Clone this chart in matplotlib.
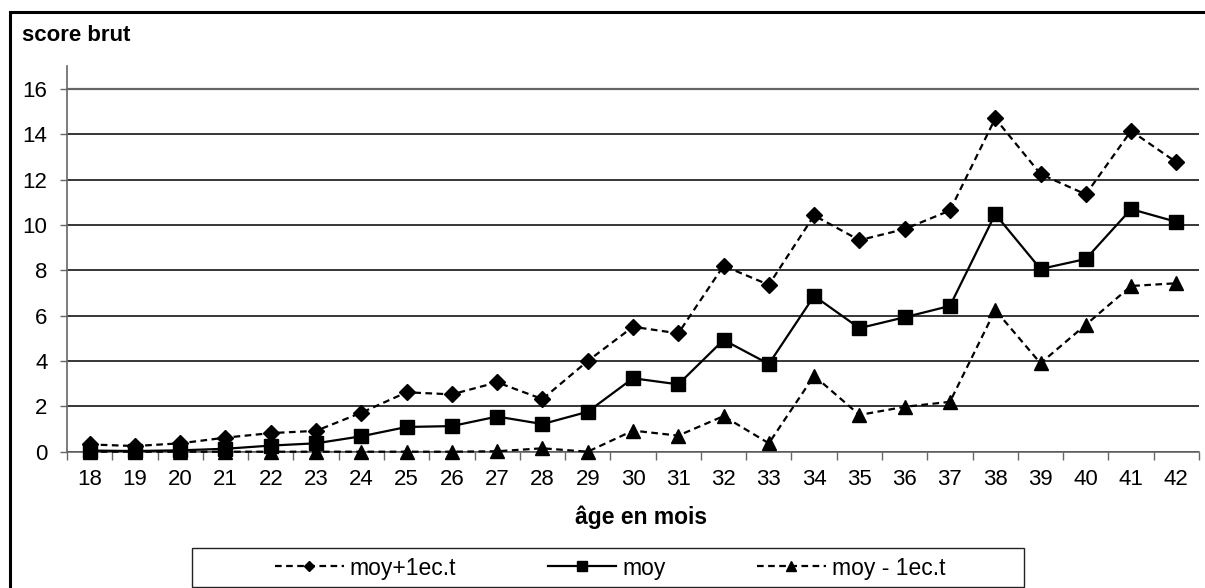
import matplotlib
matplotlib.use('Agg')
import matplotlib.pyplot as plt
from matplotlib.patches import Rectangle
from matplotlib.ticker import FixedLocator, NullFormatter

plt.rcParams['font.family'] = ['Liberation Sans', 'DejaVu Sans']

# ── Data ───────────────────────────────────────────────────────────────────
ages = list(range(18, 43))
moy_plus = [0.32, 0.25, 0.37, 0.62, 0.82, 0.92, 1.72, 2.62, 2.53, 3.06, 2.32, 4.0,
            5.51, 5.22, 8.2, 7.36, 10.42, 9.33, 9.82, 10.64, 14.7, 12.25, 11.35, 14.15, 12.77]
moy = [0.05, 0.03, 0.06, 0.13, 0.27, 0.37, 0.68, 1.09, 1.13, 1.55, 1.22, 1.76,
       3.24, 2.97, 4.93, 3.87, 6.87, 5.45, 5.93, 6.43, 10.48, 8.06, 8.5, 10.7, 10.14]
moy_minus = [0, 0, 0, 0, 0, 0, 0, 0, 0, 0.02, 0.15, 0,
             0.93, 0.71, 1.57, 0.37, 3.35, 1.62, 1.98, 2.2, 6.25, 3.9, 5.6, 7.31, 7.43]
y_ticks = [0, 2, 4, 6, 8, 10, 12, 14, 16]

W, H = 1205, 588
fig = plt.figure(figsize=(W / 100, H / 100), dpi=100)
fig.patch.set_facecolor('white')

# axes placed in pixel terms
ax_left, ax_right, ax_y0, px_per_unit = 67, 1199, 451.7, 22.67
ax = fig.add_axes([ax_left / W, 1 - ax_y0 / H, (ax_right - ax_left) / W, 17 * px_per_unit / H])

x = list(range(len(ages)))
dash = (0, (3.0, 2.0))
l1, = ax.plot(x, moy_plus, color='black', lw=1.6, ls=dash, marker='D', ms=8,
              label='moy+1ec.t', zorder=3, clip_on=False)
l2, = ax.plot(x, moy, color='black', lw=1.6, ls='-', marker='s', ms=9.5,
              label='moy', zorder=3, clip_on=False)
l3, = ax.plot(x, moy_minus, color='black', lw=1.6, ls=dash, marker='^', ms=10.5,
              label='moy - 1ec.t', zorder=3, clip_on=False)

ax.set_xlim(-0.5, len(ages) - 0.5)
ax.set_ylim(0, 17)
ax.set_xticks(x)
ax.set_xticklabels([str(a) for a in ages], fontsize=16)
ax.xaxis.set_minor_locator(FixedLocator([i - 0.5 for i in range(len(ages) + 1)]))
ax.xaxis.set_minor_formatter(NullFormatter())
ax.tick_params(axis='x', which='major', length=0, pad=12.5)
ax.tick_params(axis='x', which='minor', length=5.8, width=1, color='#666666', direction='out')
ax.set_yticks(y_ticks)
ax.tick_params(axis='y', length=5, width=1, color='#666666', direction='out', pad=9, labelsize=16)

ax.yaxis.grid(True, color='black', lw=1.1, zorder=0)
ax.set_axisbelow(True)
gl = ax.get_ygridlines()
gl[-1].set_color('#666666')
gl[-1].set_linewidth(1.6)

for s in ['top', 'right']:
    ax.spines[s].set_visible(False)
for s in ['left', 'bottom']:
    ax.spines[s].set_color('#666666')
    ax.spines[s].set_linewidth(1.2)

# texts
fig.text(22 / W, 1 - 41 / H, 'score brut', fontsize=16, fontweight='bold', va='baseline', ha='left')
fig.text(641 / W, 1 - 524 / H, 'âge en mois', fontsize=16.5, fontweight='bold', va='baseline', ha='center')

# legend
fig.legend(handles=[l1, l2, l3], loc='center', bbox_to_anchor=(610 / W, 1 - 568 / H),
           ncol=3, frameon=False, fontsize=16.5, handlelength=3.0, handletextpad=0.25,
           columnspacing=4.0, markerscale=0.7)
fig.add_artist(Rectangle((192 / W, 1 - 587 / H), 832 / W, 39 / H, transform=fig.transFigure,
                         fill=False, ec='#222222', lw=1))

# outer border (left + top visible)
fig.add_artist(Rectangle((10 / W, -0.1), 1.2, 1 - 12 / H + 0.1, transform=fig.transFigure,
                         fill=False, ec='black', lw=2.2))

plt.savefig('out.png', dpi=100)
plt.close()
